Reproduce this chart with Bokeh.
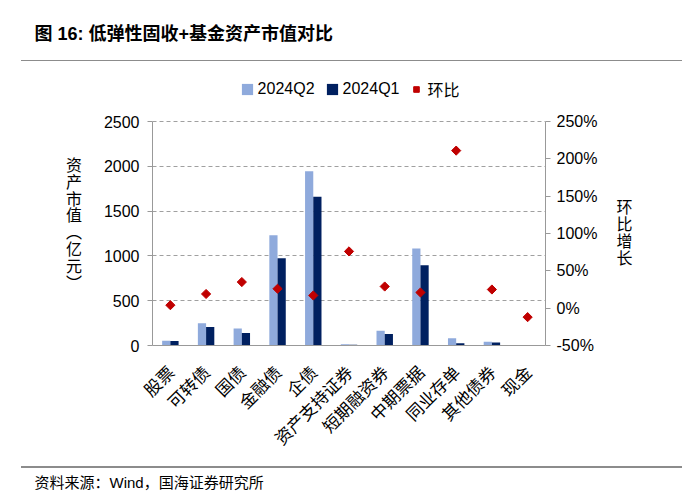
import math
from bokeh.plotting import figure
from bokeh.models import (Range1d, FactorRange, LinearAxis, FixedTicker, NumeralTickFormatter,
                          Legend, LegendItem, ColumnDataSource, Title)
from bokeh.transform import dodge
from bokeh.embed import file_html
from bokeh.resources import INLINE

categories = ["股票", "可转债", "国债", "金融债", "企债", "资产支持证券",
              "短期融资券", "中期票据", "同业存单", "其他债券", "现金"]
q2_values = [53, 247, 190, 1231, 1945, 14, 165, 1083, 82, 42, 0]
q1_values = [51, 207, 140, 975, 1659, 8, 127, 895, 26, 33, 0]
qoq_growth = [0.04, 0.19, 0.35, 0.26, 0.17, 0.76, 0.29, 0.21, 2.11, 0.25, -0.12]
left_ticks = [0, 500, 1000, 1500, 2000, 2500]
right_ticks = [-0.5, 0.0, 0.5, 1.0, 1.5, 2.0, 2.5]

title_text = "图 16:  低弹性固收+基金资产市值对比"
source_text = "资料来源：Wind，国海证券研究所"
left_label = "\n\n资\n产\n市\n值\n︵\n亿\n元\n︶"
right_label = "\n\n\n环\n比\n增\n长"

LIGHT = "#8FAADC"
DARK = "#002060"
RED = "#C00000"
RULE = "#8c8c8c"
NUM_FONT = "'Liberation Sans', 'Noto Sans CJK SC'"
CJK_FONT = "'Noto Sans CJK SC'"

W, H = 698, 497
F_LEFT, F_RIGHT, F_TOP, F_BOTTOM = 152, 545, 66, 345   # frame edges in px
AX_TOP = 121                                            # px of the 2500 / 250% line

ppx = (F_BOTTOM - AX_TOP)
y_end = left_ticks[-1] + (AX_TOP - F_TOP) / ppx * (left_ticks[-1] - left_ticks[0])
r_end = right_ticks[-1] + (AX_TOP - F_TOP) / ppx * (right_ticks[-1] - right_ticks[0])

p = figure(width=W, height=H,
           x_range=FactorRange(factors=categories, range_padding=0),
           y_range=Range1d(left_ticks[0], y_end),
           output_backend="svg", toolbar_location=None,
           min_border_left=F_LEFT, min_border_right=W - F_RIGHT,
           min_border_top=F_TOP, min_border_bottom=H - F_BOTTOM)
p.extra_y_ranges = {"pct": Range1d(right_ticks[0], r_end)}
p.outline_line_color = None

src = ColumnDataSource(dict(cat=categories, q2=q2_values, q1=q1_values, g=qoq_growth))

r_q2 = p.vbar(x=dodge("cat", -0.115, range=p.x_range), top="q2", width=0.23,
              source=src, fill_color=LIGHT, line_color=None)
r_q1 = p.vbar(x=dodge("cat", 0.115, range=p.x_range), top="q1", width=0.23,
              source=src, fill_color=DARK, line_color=None)
r_g = p.scatter(x="cat", y="g", y_range_name="pct", source=src, marker="square",
                angle=math.pi / 4, size=6.5, fill_color=RED, line_color=RED)

p.xgrid.grid_line_color = None
p.ygrid.ticker = FixedTicker(ticks=left_ticks)
p.ygrid.grid_line_color = "#a0a0a0"
p.ygrid.grid_line_dash = "4 3"
p.ygrid.grid_line_width = 1

ya = p.yaxis[0]
ya.ticker = FixedTicker(ticks=left_ticks)
ya.bounds = (left_ticks[0], left_ticks[-1])
ya.axis_line_color = "#999999"
ya.major_tick_line_color = "#999999"
ya.major_tick_out = 5
ya.major_tick_in = 0
ya.minor_tick_line_color = None
ya.major_label_standoff = 8
ya.major_label_text_font = NUM_FONT
ya.major_label_text_font_size = "16px"
ya.major_label_text_color = "#000000"
ya.axis_label = left_label
ya.axis_label_orientation = "horizontal"
ya.axis_label_standoff = 19
ya.axis_label_text_font = CJK_FONT
ya.axis_label_text_font_size = "16px"
ya.axis_label_text_font_style = "normal"
ya.axis_label_text_color = "#000000"
ya.axis_label_text_line_height = 0.70

ra = LinearAxis(y_range_name="pct", ticker=FixedTicker(ticks=right_ticks),
                formatter=NumeralTickFormatter(format="0%"),
                bounds=(right_ticks[0], right_ticks[-1]))
ra.axis_line_color = "#999999"
ra.major_tick_line_color = "#999999"
ra.major_tick_out = 5
ra.major_tick_in = 0
ra.minor_tick_line_color = None
ra.major_label_standoff = 6
ra.major_label_text_font = NUM_FONT
ra.major_label_text_font_size = "16px"
ra.major_label_text_color = "#000000"
ra.axis_label = right_label
ra.axis_label_orientation = "horizontal"
ra.axis_label_standoff = 16
ra.axis_label_text_font = CJK_FONT
ra.axis_label_text_font_size = "16px"
ra.axis_label_text_font_style = "normal"
ra.axis_label_text_color = "#000000"
ra.axis_label_text_line_height = 0.71
p.add_layout(ra, "right")

xa = p.xaxis[0]
xa.axis_line_color = "#999999"
xa.major_tick_line_color = None
xa.major_tick_out = 0
xa.major_tick_in = 0
xa.minor_tick_line_color = None
xa.major_label_orientation = math.pi / 4
xa.major_label_standoff = 23
xa.major_label_text_font = CJK_FONT
xa.major_label_text_font_size = "17px"
xa.major_label_text_color = "#000000"
# blank label only to reserve a little room below the tick labels
xa.axis_label = " "
xa.axis_label_standoff = 0
xa.axis_label_text_font = NUM_FONT
xa.axis_label_text_font_size = "4px"

legend = Legend(items=[LegendItem(label="2024Q2", renderers=[r_q2]),
                       LegendItem(label="2024Q1", renderers=[r_q1]),
                       LegendItem(label="环比", renderers=[r_g])],
                location=(87.6, F_BOTTOM - 101), orientation="horizontal",
                glyph_width=14, glyph_height=14, label_standoff=4, spacing=10,
                padding=0, margin=0, border_line_color=None,
                background_fill_alpha=0, label_height=14,
                label_text_font=NUM_FONT, label_text_font_size="16px",
                label_text_color="#000000")
p.add_layout(legend)

p.add_layout(Title(text=title_text, align="left", offset=34 - F_LEFT,
                   vertical_align="middle", standoff=43,
                   text_font=NUM_FONT, text_font_size="18px", text_font_style="bold",
                   text_color="#000000"), "above")
p.add_layout(Title(text=source_text, align="left", offset=34 - F_LEFT,
                   vertical_align="top", standoff=8,
                   text_font=NUM_FONT, text_font_size="15px", text_font_style="normal",
                   text_color="#000000"), "below")

# thin horizontal rules above the legend and above the source note (decoration only)
try:
    from bokeh.models import InlineStyleSheet
    css = (
        ":host::before { content: ''; position: absolute; left: 21px; top: 60px; "
        "width: 661px; height: 1px; background: %s; z-index: 100; pointer-events: none; }\n"
        ":host::after { content: ''; position: absolute; left: 21px; top: 466px; "
        "width: 661px; height: 2px; background: %s; z-index: 100; pointer-events: none; }\n"
    ) % (RULE, RULE)
    p.stylesheets = [InlineStyleSheet(css=css)]
except Exception:
    pass

open("out.html", "w").write(file_html(p, INLINE))
